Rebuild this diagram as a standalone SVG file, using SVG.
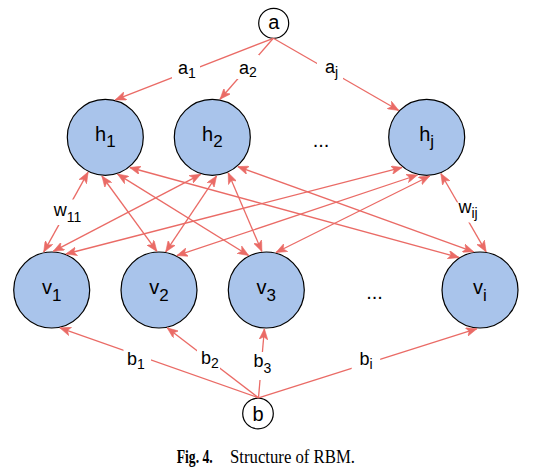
<svg xmlns="http://www.w3.org/2000/svg" width="538" height="471" viewBox="0 0 538 471">
<style>
.node{fill:#A9C4EB;stroke:#000;stroke-width:1.2}
.bias{fill:#fff;stroke:#000;stroke-width:1.2}
.nl{font-family:"Liberation Sans",Arial,sans-serif;font-size:20px;fill:#000;text-anchor:middle}
.el{font-family:"Liberation Sans",Arial,sans-serif;font-size:18px;fill:#000;text-anchor:middle}
.e{stroke:#EA6B66;stroke-width:1.3;fill:none;marker-end:url(#arr)}
.w{stroke:#EA6B66;stroke-width:1.3;fill:none;marker-end:url(#arr);marker-start:url(#arr)}
.bg{fill:#fff}
.cap{font-family:"Liberation Serif","Times New Roman",serif;font-size:18px;fill:#000}
</style>
<defs>
<marker id="arr" viewBox="0 0 10 8" refX="10" refY="4" markerWidth="11" markerHeight="8.8" markerUnits="userSpaceOnUse" orient="auto-start-reverse">
<path d="M0,0 L10,4 L0,8 L2.6,4 Z" fill="#EA6B66" stroke="#EA6B66" stroke-width="0.5"/>
</marker>
</defs>
<g id="nodes">
<g id="node-a"><circle class="bias" cx="273.7" cy="23.3" r="15"/><text class="nl" x="273.7" y="29">a</text></g>
<g id="node-b"><circle class="bias" cx="258" cy="413.5" r="15.3"/><text class="nl" x="258" y="420.5">b</text></g>
<g id="node-h1"><circle class="node" cx="105.3" cy="137.3" r="38"/><text class="nl" x="105.3" y="141.3">h<tspan font-size="17" dy="6">1</tspan></text></g>
<g id="node-h2"><circle class="node" cx="212.3" cy="137.3" r="38"/><text class="nl" x="212.3" y="141.3">h<tspan font-size="17" dy="6">2</tspan></text></g>
<g id="node-hj"><circle class="node" cx="426.7" cy="137.3" r="38"/><text class="nl" x="426.7" y="141.3">h<tspan font-size="17" dy="6">j</tspan></text></g>
<g id="node-v1"><circle class="node" cx="51.7" cy="290" r="38"/><text class="nl" x="51.7" y="294">v<tspan font-size="17" dy="6.5">1</tspan></text></g>
<g id="node-v2"><circle class="node" cx="159" cy="290" r="38"/><text class="nl" x="159" y="294">v<tspan font-size="17" dy="6.5">2</tspan></text></g>
<g id="node-v3"><circle class="node" cx="266.3" cy="290" r="38"/><text class="nl" x="266.3" y="294">v<tspan font-size="17" dy="6.5">3</tspan></text></g>
<g id="node-vi"><circle class="node" cx="480" cy="290" r="38"/><text class="nl" x="480" y="294">v<tspan font-size="17" dy="6.5">i</tspan></text></g>
<g id="dots-h"><text class="nl" x="321" y="146.7">...</text></g>
<g id="dots-v"><text class="nl" x="374.5" y="299.3">...</text></g>
</g>
<g id="connectors">
<line class="e" x1="273.3" y1="38.3" x2="115.2" y2="99.9"/>
<line class="e" x1="273.3" y1="38.3" x2="220" y2="99.3"/>
<line class="e" x1="273.3" y1="38.3" x2="398.8" y2="110.5"/>
<line class="w" x1="88.1" y1="172.1" x2="43.7" y2="252.1"/>
<line class="w" x1="101.9" y1="176" x2="156.9" y2="251.4"/>
<line class="w" x1="117.5" y1="174.1" x2="248.7" y2="255.5"/>
<line class="w" x1="129.7" y1="167.5" x2="459" y2="257.5"/>
<line class="w" x1="200.7" y1="174.3" x2="53.2" y2="251.3"/>
<line class="w" x1="216.6" y1="175.9" x2="165.7" y2="251.9"/>
<line class="w" x1="228.2" y1="172.7" x2="261.9" y2="251.6"/>
<line class="w" x1="237.7" y1="166.6" x2="473.7" y2="251.8"/>
<line class="w" x1="402.2" y1="167.4" x2="65.8" y2="254"/>
<line class="w" x1="417.5" y1="175" x2="176.8" y2="255.6"/>
<line class="w" x1="429.8" y1="176" x2="275.9" y2="252.5"/>
<line class="w" x1="440.8" y1="173.5" x2="486.1" y2="251.8"/>
<line class="e" x1="258.5" y1="397.8" x2="59.8" y2="327.8"/>
<line class="e" x1="258.5" y1="397.8" x2="167.1" y2="327.8"/>
<line class="e" x1="258.5" y1="397.8" x2="264.4" y2="328.7"/>
<line class="e" x1="258.5" y1="397.8" x2="477" y2="328.7"/>
<g id="labels">
<rect class="bg" x="172" y="57" width="28" height="24"/>
<text class="el" x="187" y="74">a<tspan font-size="14" dy="3.5">1</tspan></text>
<rect class="bg" x="237" y="55" width="22" height="24"/>
<text class="el" x="248" y="73.5">a<tspan font-size="14" dy="3.5">2</tspan></text>
<rect class="bg" x="317" y="57" width="26" height="24"/>
<text class="el" x="331.5" y="73.3">a<tspan font-size="14" dy="3.5">j</tspan></text>
<rect class="bg" x="51" y="199.5" width="33" height="25.5"/>
<text class="el" x="67.5" y="216">w<tspan font-size="14" dy="6">11</tspan></text>
<rect class="bg" x="455" y="202.5" width="26" height="20"/>
<text class="el" x="468" y="213.3">w<tspan font-size="14" dy="5">ij</tspan></text>
<rect class="bg" x="123.5" y="348" width="27.5" height="23"/>
<text class="el" x="136" y="364.5">b<tspan font-size="14" dy="4">1</tspan></text>
<rect class="bg" x="197" y="349" width="23" height="22"/>
<text class="el" x="210" y="363.5">b<tspan font-size="14" dy="4">2</tspan></text>
<rect class="bg" x="252" y="352" width="21" height="28"/>
<text class="el" x="262.3" y="366.7">b<tspan font-size="14" dy="6.5">3</tspan></text>
<rect class="bg" x="351.7" y="349" width="28.5" height="22"/>
<text class="el" x="366" y="365.3">b<tspan font-size="14" dy="4">i</tspan></text>
</g>
</g>
<g id="caption">
<text class="cap" x="176.7" y="463" font-weight="bold" textLength="36" lengthAdjust="spacingAndGlyphs">Fig. 4.</text>
<text class="cap" x="230" y="463" textLength="125" lengthAdjust="spacingAndGlyphs">Structure of RBM.</text>
</g>
</svg>
